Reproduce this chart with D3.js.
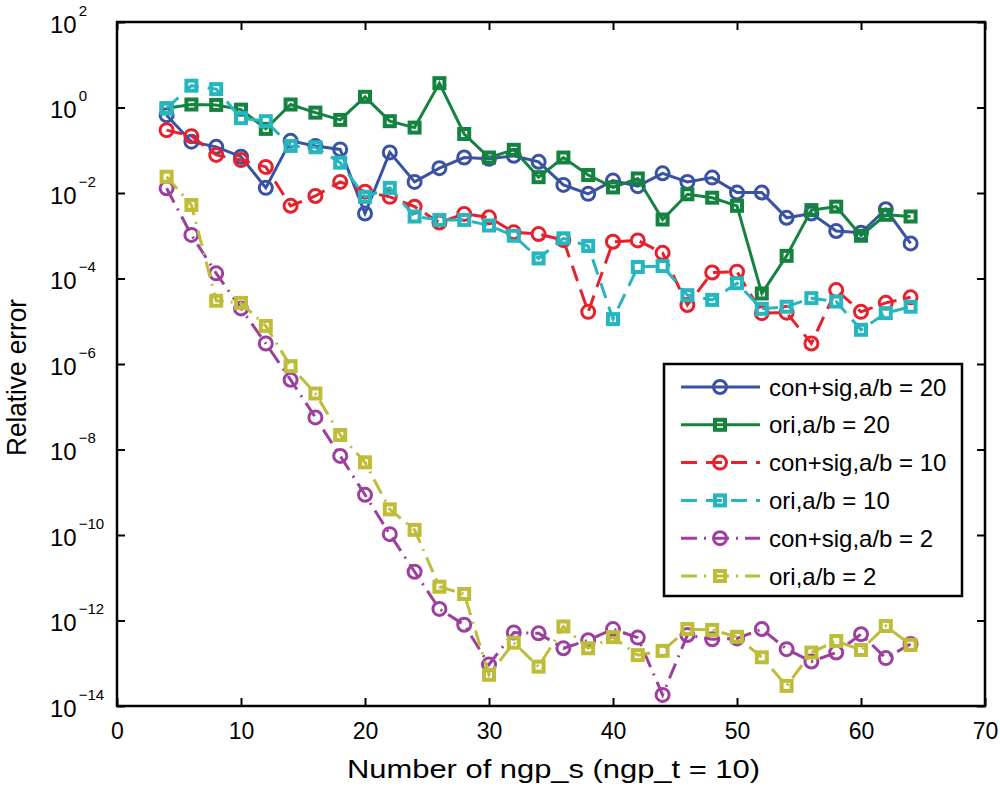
<!DOCTYPE html>
<html>
<head>
<meta charset="utf-8">
<script src="https://cdn.jsdelivr.net/npm/d3@7/dist/d3.min.js"></script>
<style>
body { margin: 0; background: #fff; }
svg { display: block; }
</style>
</head>
<body>
<svg width="1000" height="795"></svg>
<script>
// x values (ngp_s), same for every series
var ngp = [4,6,8,10,12,14,16,18,20,22,24,26,28,30,32,34,36,38,40,42,44,46,48,50,52,54,56,58,60,62,64];

// values given as log10(relative error)
var conSig20 = [-0.18,-0.8,-0.92,-1.15,-1.88,-0.78,-0.9,-0.98,-2.48,-1.05,-1.74,-1.42,-1.17,-1.2,-1.13,-1.27,-1.81,-2.02,-1.71,-1.84,-1.54,-1.74,-1.64,-1.99,-1.99,-2.58,-2.48,-2.89,-2.93,-2.38,-3.18];
var ori20 = [-0.02,0.07,0.06,-0.05,-0.5,0.07,-0.12,-0.29,0.25,-0.32,-0.47,0.57,-0.62,-1.17,-0.99,-1.63,-1.17,-1.58,-1.87,-1.66,-2.62,-2.03,-2.11,-2.3,-4.35,-3.47,-2.4,-2.32,-3.0,-2.51,-2.55];
var conSig10 = [-0.53,-0.67,-1.11,-1.23,-1.39,-2.3,-2.07,-1.74,-1.97,-2.09,-2.32,-2.69,-2.49,-2.57,-2.92,-2.96,-3.1,-4.78,-3.14,-3.11,-3.4,-4.62,-3.86,-3.84,-4.81,-4.8,-5.52,-4.27,-4.78,-4.57,-4.44];
var ori10 = [-0.02,0.51,0.43,-0.25,-0.32,-0.9,-0.93,-1.29,-2.09,-1.88,-2.55,-2.63,-2.63,-2.76,-3.0,-3.53,-3.06,-3.24,-4.95,-3.73,-3.71,-4.39,-4.5,-4.11,-4.71,-4.66,-4.46,-4.54,-5.2,-4.81,-4.66];
var conSig2 = [-1.89,-2.98,-3.88,-4.7,-5.52,-6.37,-7.25,-8.15,-9.06,-9.98,-10.86,-11.73,-12.1,-13.03,-12.28,-12.3,-12.65,-12.46,-12.2,-12.4,-13.74,-12.34,-12.44,-12.42,-12.2,-12.67,-12.96,-12.75,-12.32,-12.88,-12.55];
var ori2 = [-1.62,-2.28,-4.52,-4.57,-5.11,-6.05,-6.69,-7.66,-8.3,-9.4,-9.88,-11.21,-11.38,-13.27,-12.52,-13.08,-12.14,-12.65,-12.39,-12.81,-12.71,-12.2,-12.22,-12.38,-12.86,-13.53,-12.75,-12.48,-12.69,-12.13,-12.57];

var seriesNames = ["con+sig,a/b = 20","ori,a/b = 20","con+sig,a/b = 10","ori,a/b = 10","con+sig,a/b = 2","ori,a/b = 2"];
var seriesLogs = [conSig20, ori20, conSig10, ori10, conSig2, ori2];

var xTicks = [0,10,20,30,40,50,60,70];
var yExps = [2,0,-2,-4,-6,-8,-10,-12,-14];

// styles per series
var styles = [
	{color:"#3a52a3", marker:"circle", dash:null},
	{color:"#14833f", marker:"square", dash:null},
	{color:"#e6212b", marker:"circle", dash:"16,9"},
	{color:"#25b6bf", marker:"square", dash:"16,9"},
	{color:"#9c3f9d", marker:"circle", dash:"16,7,2,7"},
	{color:"#bdbd39", marker:"square", dash:"16,7,2,7"}
];

// plot box (NB! "top" is taken by window, so other names)
var pLeft = 117, pRight = 985, pTop = 22, pBottom = 706;

var svg = d3.select("svg");

var x = d3.scaleLinear().domain([0,70]).range([pLeft,pRight]);
var y = d3.scaleLog().domain([1e-14,1e2]).range([pBottom,pTop]);
var yTickVals = yExps.map(function(e){return Math.pow(10,e);});

// axes, matlab style inward ticks
var gx = svg.append("g").attr("transform","translate(0,"+pBottom+")")
	.call(d3.axisBottom(x).tickValues(xTicks).tickSizeInner(-8).tickSizeOuter(0).tickPadding(17));
var gxt = svg.append("g").attr("transform","translate(0,"+pTop+")")
	.call(d3.axisTop(x).tickValues(xTicks).tickSizeInner(-8).tickSizeOuter(0).tickFormat(""));
var gy = svg.append("g").attr("transform","translate("+pLeft+",0)")
	.call(d3.axisLeft(y).tickValues(yTickVals).tickSizeInner(-8).tickSizeOuter(0).tickFormat(""));
var gyr = svg.append("g").attr("transform","translate("+pRight+",0)")
	.call(d3.axisRight(y).tickValues(yTickVals).tickSizeInner(-8).tickSizeOuter(0).tickFormat(""));

[gx,gxt,gy,gyr].forEach(function(g){
	g.select(".domain").remove();
	g.selectAll(".tick line").attr("stroke","#000").attr("stroke-width",2);
});

gx.selectAll(".tick text")
	.attr("font-family","'Liberation Sans',Arial,sans-serif")
	.attr("font-size",23).attr("fill","#000");

// y labels 10^n with superscript
gy.selectAll(".tick text").remove();
gy.selectAll(".tick").each(function(d){
	var e = Math.round(Math.log10(d));
	var t = d3.select(this).append("text")
		.attr("x",-67).attr("y",10)
		.attr("text-anchor","start")
		.attr("font-family","'Liberation Sans',Arial,sans-serif")
		.attr("fill","#000");
	t.append("tspan").attr("font-size",24).text("10");
	t.append("tspan").attr("dx",2).attr("font-size",15).attr("dy",-17).text(e < 0 ? "\u2212" + (-e) : e);
});

// frame
svg.append("rect").attr("x",pLeft).attr("y",pTop).attr("width",pRight-pLeft).attr("height",pBottom-pTop)
	.attr("fill","none").attr("stroke","#000").attr("stroke-width",2.5);

// series
var line = d3.line()
	.x(function(d){return x(d[0]);})
	.y(function(d){return y(d[1]);});

function drawMarker(g, type, cx, cy, color){
	if(type == "circle"){
		g.append("circle").attr("cx",cx).attr("cy",cy).attr("r",6.5)
			.attr("fill","none").attr("stroke",color).attr("stroke-width",3);
	} else {
		g.append("rect").attr("x",cx-5).attr("y",cy-5).attr("width",10).attr("height",10)
			.attr("fill","none").attr("stroke",color).attr("stroke-width",4);
	}
}

var plot = svg.append("g");
seriesLogs.forEach(function(logs, i){
	var pts = ngp.map(function(n, j){ return [n, Math.pow(10, logs[j])]; });
	var st = styles[i];
	var g = plot.append("g");
	g.append("path").attr("d", line(pts))
		.attr("fill","none").attr("stroke",st.color).attr("stroke-width",3)
		.attr("stroke-dasharray", st.dash);
	pts.forEach(function(p){
		drawMarker(g, st.marker, x(p[0]), y(p[1]), st.color);
	});
});

// legend
var lg = svg.append("g");
lg.append("rect").attr("x",664).attr("y",364).attr("width",298).attr("height",232)
	.attr("fill","#fff").attr("stroke","#000").attr("stroke-width",2.5);
seriesNames.forEach(function(name, i){
	var st = styles[i];
	var ly = 387 + i*37.8;
	lg.append("line").attr("x1",681).attr("x2",760).attr("y1",ly).attr("y2",ly)
		.attr("stroke",st.color).attr("stroke-width",3).attr("stroke-dasharray",st.dash);
	drawMarker(lg, st.marker, 720, ly, st.color);
	lg.append("text").attr("x",769).attr("y",ly+8.5)
		.attr("font-family","'Liberation Sans',Arial,sans-serif")
		.attr("font-size",24).attr("fill","#000").text(name);
});

// axis titles
svg.append("text").attr("x",347).attr("y",778)
	.attr("font-family","'Liberation Sans',Arial,sans-serif")
	.attr("font-size",26).attr("fill","#000")
	.attr("textLength",413).attr("lengthAdjust","spacingAndGlyphs")
	.text("Number of ngp_s (ngp_t = 10)");
svg.append("text").attr("transform","translate(26,456) rotate(-90)")
	.attr("font-family","'Liberation Sans',Arial,sans-serif")
	.attr("font-size",28).attr("fill","#000")
	.attr("textLength",157).attr("lengthAdjust","spacingAndGlyphs")
	.text("Relative error");
</script>
</body>
</html>
